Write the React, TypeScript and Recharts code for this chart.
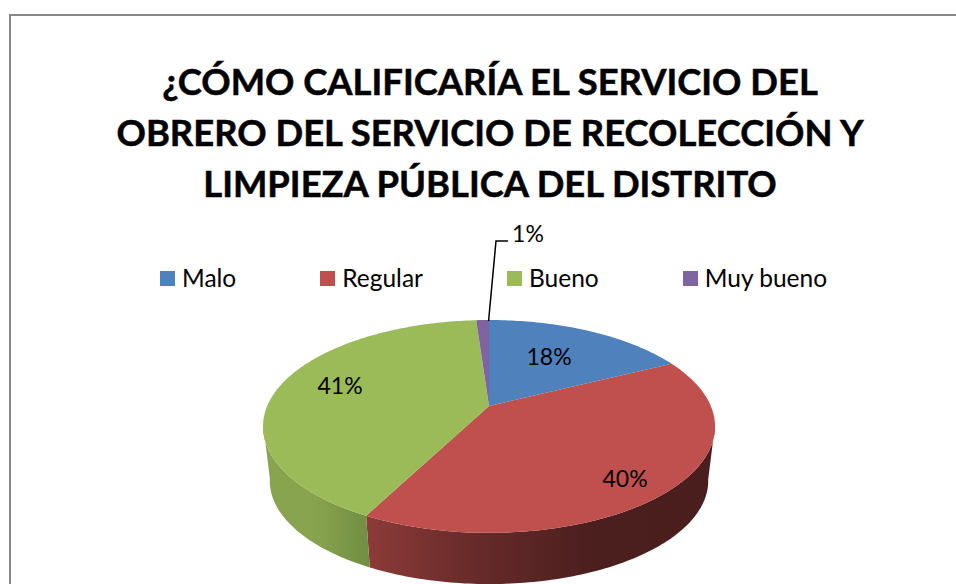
import { Legend, Pie, PieChart } from "recharts";

const categories = ["Malo", "Regular", "Bueno", "Muy bueno"];
// unrounded shares, read from the slice boundaries; labels show them rounded
const values = [17.6, 40, 41.3, 1.1];
const colors = ["#4f81bd", "#c0504d", "#9bbb59", "#8064a2"];
const titleLines = [
  "¿CÓMO CALIFICARÍA EL SERVICIO DEL",
  "OBRERO DEL SERVICIO DE RECOLECCIÓN Y",
  "LIMPIEZA PÚBLICA DEL DISTRITO",
];

const tableData = categories.map((name, i) => ({ name, value: values[i], fill: colors[i] }));

// label centres relative to the pie pivot, as Excel placed them
const labelOffsets = [
  [60, -50],
  [136, 72],
  [-149, -21],
  [39, -173],
];

const wallFills = ["#4f81bd", "url(#wallRed)", "url(#wallGreen)", "#8064a2"];

const CX = 489;
const CY = 406;
const FONT = "Lato, 'Open Sans', sans-serif";

// tilted disc: a circle seen in perspective, so the pivot sits above the ellipse centre
const KX = 221.8;
const KY = 102.5;
const PERSPECTIVE = 0.192;
const BOTTOM_SCALE = 0.97;
const DEPTH = 55;

function project(angleDeg: number, bottom = false) {
  const t = ((90 - angleDeg) * Math.PI) / 180;
  const w = 1 + PERSPECTIVE * Math.cos(t);
  const dx = (KX * Math.sin(t)) / w;
  const dy = (-KY * Math.cos(t)) / w;
  if (!bottom) return [CX + dx, CY + dy];
  return [CX + dx * BOTTOM_SCALE, CY + DEPTH + dy * BOTTOM_SCALE];
}

function arcPoints(start: number, end: number) {
  const pts: number[][] = [];
  const steps = Math.max(2, Math.ceil(Math.abs(end - start)));
  for (let i = 0; i <= steps; i++) {
    pts.push(project(start + ((end - start) * i) / steps));
  }
  return pts;
}

function toPath(pts: number[][]) {
  return "M" + pts.map((p) => `${p[0].toFixed(2)},${p[1].toFixed(2)}`).join("L") + "Z";
}

function TopSlice(props: any) {
  const pts = [[CX, CY], ...arcPoints(props.startAngle, props.endAngle)];
  return <path d={toPath(pts)} fill={props.fill} />;
}

// only the part of the rim that faces the viewer, one small quad per degree
function WallSlice(props: any) {
  const { startAngle, endAngle } = props;
  const steps = Math.max(2, Math.ceil(Math.abs(endAngle - startAngle)));
  let d = "";
  for (let i = 0; i < steps; i++) {
    const a = startAngle + ((endAngle - startAngle) * i) / steps;
    const b = startAngle + ((endAngle - startAngle) * (i + 1)) / steps;
    const mid = ((90 - (a + b) / 2) * Math.PI) / 180;
    if (Math.cos(mid) > -PERSPECTIVE + 0.02) continue;
    d += toPath([project(a), project(b), project(b, true), project(a, true)]);
  }
  return <path d={d} fill={wallFills[props.index]} />;
}

function SliceLabel(props: any) {
  const [dx, dy] = labelOffsets[props.index];
  const isSmall = props.value < 5;
  const from = isSmall ? project(props.midAngle) : null;
  return (
    <g>
      {from && (
        <polyline
          points={`${from[0] + 6},${from[1] + 1} ${CX + 7},${CY - 165} ${CX + 19},${CY - 165}`}
          fill="none"
          stroke="#000"
          strokeWidth={1.5}
        />
      )}
      <text
        x={CX + dx}
        y={CY + dy}
        textAnchor="middle"
        dominantBaseline="central"
        fontSize={23}
        fontFamily={FONT}
        fill="#000"
      >
        {Math.round(props.value)}%
      </text>
    </g>
  );
}

function LegendRow({ payload }: any) {
  // both pies report to the legend, keep one entry per category in data order
  const items = categories.map((name) => (payload || []).find((p: any) => p.value === name)).filter(Boolean);
  return (
    <div style={{ display: "flex", alignItems: "center", fontFamily: FONT, fontSize: 24.5, whiteSpace: "nowrap" }}>
      {items.map((entry: any) => (
        <div key={entry.value} style={{ display: "flex", alignItems: "center", marginRight: 84 }}>
          <span style={{ width: 15, height: 15, background: entry.color, marginRight: 7 }} />
          <span style={{ color: "#000", lineHeight: "28px" }}>{entry.value}</span>
        </div>
      ))}
    </div>
  );
}

export default function App() {
  return (
    <div style={{ position: "fixed", inset: 0, width: 956, height: 584, overflow: "hidden", background: "#fff" }}>
      <div
        style={{
          position: "absolute",
          left: 9,
          top: 14,
          width: 960,
          height: 600,
          borderLeft: "2px solid #888",
          borderTop: "2px solid #888",
        }}
      />
      <div
        style={{
          position: "absolute",
          left: 0,
          top: 56,
          width: 980,
          textAlign: "center",
          fontFamily: FONT,
          fontWeight: 700,
          fontSize: 36.4,
          lineHeight: "51px",
          color: "#000",
          whiteSpace: "nowrap",
          WebkitTextStroke: "0.5px #000",
        }}
      >
        {titleLines.map((line) => (
          <div key={line}>{line}</div>
        ))}
      </div>
      <PieChart width={956} height={584} margin={{ top: 0, right: 0, bottom: 0, left: 0 }} style={{ position: "absolute", left: 0, top: 0 }}>
        <defs>
          <linearGradient id="wallRed" gradientUnits="userSpaceOnUse" x1={365} y1={0} x2={715} y2={0}>
            <stop offset="0" stopColor="#8d3b39" />
            <stop offset="0.32" stopColor="#672a2a" />
            <stop offset="0.65" stopColor="#4b1f1e" />
            <stop offset="1" stopColor="#4a1e1d" />
          </linearGradient>
          <linearGradient id="wallGreen" gradientUnits="userSpaceOnUse" x1={263} y1={0} x2={369} y2={0}>
            <stop offset="0" stopColor="#89a44f" />
            <stop offset="0.5" stopColor="#88a34e" />
            <stop offset="1" stopColor="#708e41" />
          </linearGradient>
        </defs>
        <Pie
          data={tableData}
          dataKey="value"
          nameKey="name"
          cx={CX}
          cy={CY}
          outerRadius={100}
          startAngle={90}
          endAngle={-270}
          stroke="none"
          legendType="none"
          shape={WallSlice}
          isAnimationActive={false}
        />
        <Pie
          data={tableData}
          dataKey="value"
          nameKey="name"
          cx={CX}
          cy={CY}
          outerRadius={100}
          startAngle={90}
          endAngle={-270}
          stroke="none"
          legendType="square"
          shape={TopSlice}
          label={SliceLabel}
          labelLine={false}
          isAnimationActive={false}
        />
        <Legend content={LegendRow} itemSorter={null} wrapperStyle={{ left: 160, top: 264, width: 790, bottom: "auto" }} />
      </PieChart>
    </div>
  );
}
